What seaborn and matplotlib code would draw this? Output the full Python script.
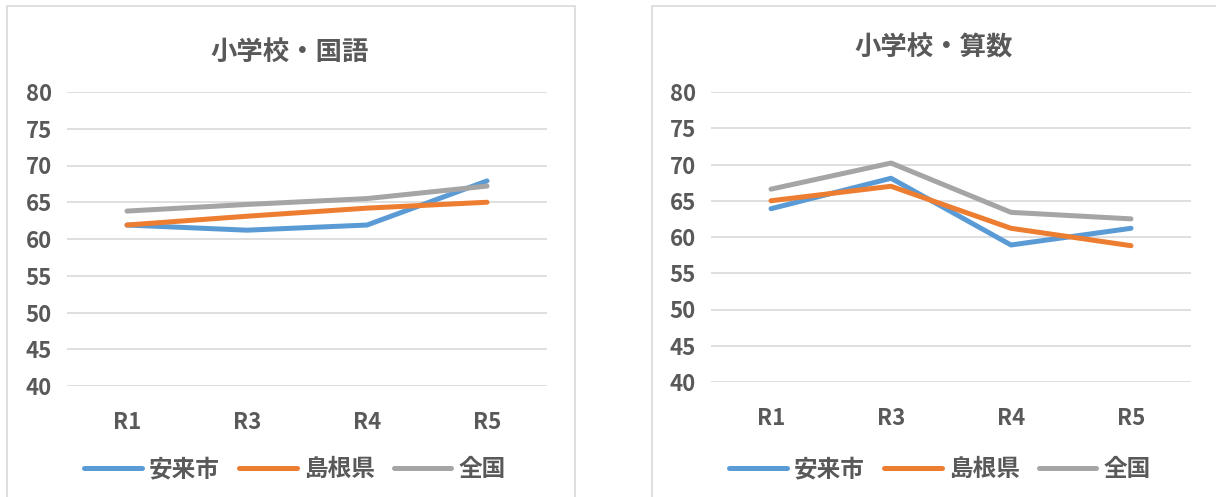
"""Two line charts: elementary school scores (Japanese, math)"""

import pandas as pd
import matplotlib
matplotlib.use("Agg")
import matplotlib.pyplot as plt
from matplotlib.patches import Rectangle
import seaborn as sns

years = ["R1", "R3", "R4", "R5"]
regions = ["安来市", "島根県", "全国"]

kokugo_yasugi = [61.9, 61.2, 61.9, 67.9]
kokugo_shimane = [61.9, 63.1, 64.2, 65.0]
kokugo_zenkoku = [63.8, 64.7, 65.5, 67.2]

sansu_yasugi = [63.9, 68.1, 58.9, 61.2]
sansu_shimane = [65.0, 67.0, 61.2, 58.8]
sansu_zenkoku = [66.6, 70.2, 63.4, 62.5]

titles = ["小学校・国語", "小学校・算数"]
colors = ["#5B9BD5", "#ED7D31", "#A5A5A5"]
text_col = "#595959"

sns.set_theme(style="white")
plt.rcParams["font.family"] = ["Noto Sans CJK JP", "DejaVu Sans"]


def long_df(series):
    rows = []
    for name, vals in zip(regions, series):
        for yr, v in zip(years, vals):
            rows.append({"year": yr, "region": name, "score": v})
    return pd.DataFrame(rows)


W, H = 1216, 497
fig = plt.figure(figsize=(W / 100, H / 100), dpi=100)

# panel frames (pixel coords, y from top); bottom runs off the picture
for x0, x1 in [(7, 575), (652, 1230)]:
    fig.patches.append(Rectangle((x0 / W, -0.1), (x1 - x0) / W, 0.1 + (H - 6) / H,
                                 transform=fig.transFigure, fill=False,
                                 edgecolor="#D9D9D9", linewidth=1.2))

panels = [
    (67, 92, 386, [kokugo_yasugi, kokugo_shimane, kokugo_zenkoku], 52, 295),
    (711, 92, 382, [sansu_yasugi, sansu_shimane, sansu_zenkoku], 48, 940),
]

for i, (left, top, bottom, series, title_y, leg_x) in enumerate(panels):
    ax = fig.add_axes([left / W, (H - bottom) / H, 480 / W, (bottom - top) / H])
    df = long_df(series)
    sns.lineplot(data=df, x="year", y="score", hue="region", palette=colors,
                 linewidth=3.6, sort=False, ax=ax, legend=False)
    for ln in ax.lines:
        ln.set_solid_capstyle("round")
        ln.set_solid_joinstyle("round")

    ax.set_xlim(-0.5, 3.5)
    ax.set_ylim(40, 80)
    ax.set_yticks(range(40, 81, 5))
    ax.grid(axis="y", color="#D9D9D9", linewidth=1.2)
    ax.set_axisbelow(True)
    for s in ax.spines.values():
        s.set_visible(False)
    ax.tick_params(axis="y", length=0, pad=11, labelsize=16, labelcolor=text_col)
    ax.tick_params(axis="x", length=0, pad=18, labelsize=16, labelcolor=text_col)
    for lab in ax.get_xticklabels() + ax.get_yticklabels():
        lab.set_fontweight("bold")
    ax.set_xlabel("")
    ax.set_ylabel("")

    fig.text((left + 240 - 17) / W, 1 - title_y / H, titles[i], ha="center", va="center",
             fontsize=19, fontweight="bold", color=text_col)

    handles = [plt.Line2D([], [], color=c, linewidth=3.6, solid_capstyle="round")
               for c in colors]
    leg = fig.legend(handles, regions, loc="center", ncol=3,
                     bbox_to_anchor=(leg_x / W, 1 - 469 / H), frameon=False,
                     handlelength=2.45, handletextpad=0.3, columnspacing=0.8,
                     prop={"size": 17, "weight": "bold"})
    for t in leg.get_texts():
        t.set_color(text_col)

fig.savefig("out.png", dpi=100)
plt.close(fig)
